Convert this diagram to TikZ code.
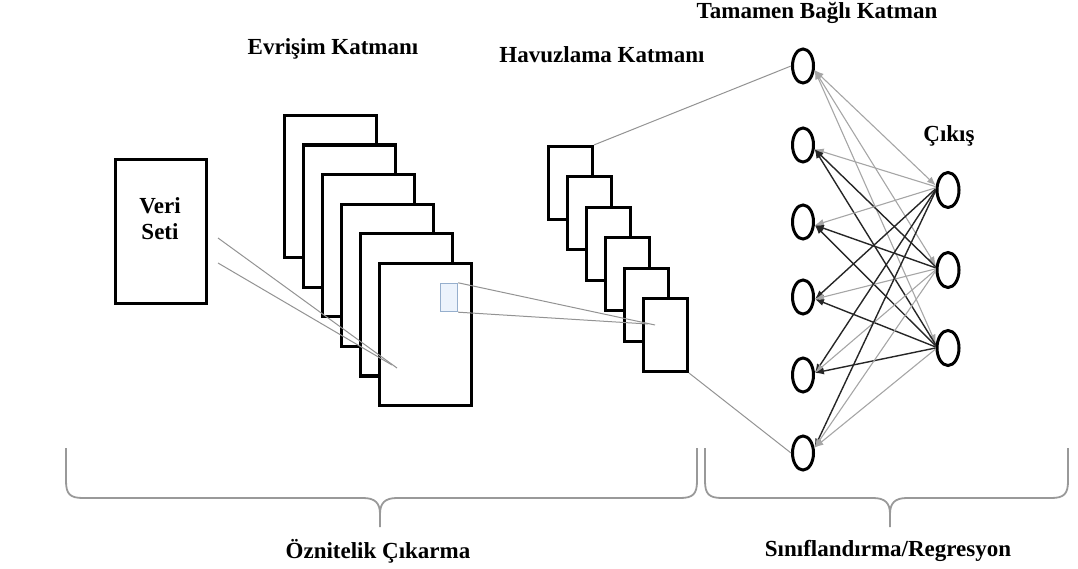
\documentclass[tikz,border=0pt]{standalone}
\usepackage{fontspec}
\setmainfont{Liberation Serif}
\usetikzlibrary{arrows.meta,shapes.geometric}
\begin{document}
\begin{tikzpicture}[x=1pt,y=-1pt,
  lbl/.style={font=\fontsize{23}{27}\selectfont\bfseries, anchor=base, inner sep=0pt},
  fmap/.style={draw=black, line width=3.2pt, fill=white, inner sep=0pt,
               minimum width=92pt, minimum height=142pt},
  pmap/.style={draw=black, line width=3.2pt, fill=white, inner sep=0pt,
               minimum width=44pt, minimum height=73pt},
  neuron/.style={ellipse, draw=black, line width=3pt, fill=white, inner sep=0pt,
                 minimum width=21pt, minimum height=34pt},
  link/.style={draw=gray!85, line width=1pt},
  tip/.tip={Latex[length=9pt,width=7pt]},
  wlight/.style={draw=gray!70, line width=1.1pt, -tip},
  wdark/.style={draw=black!85, line width=1.4pt, -tip},
  bracepath/.style={draw=gray!80, line width=1.8pt, line join=round}
]
\useasboundingbox (0,0) rectangle (1078,569);

% input
\node[draw=black, line width=3.2pt, fill=white, minimum width=91pt, minimum height=144pt, inner sep=0pt]
  (data) at (161,231.5) {};
\node[lbl] (veri) at (160,214) {Veri};
\node[lbl] (seti) at (160,240) {Seti};

% convolution feature maps
\foreach \i in {0,...,5}
  \node[fmap] (c\i) at ({330.5+19*\i},{186.5+29.6*\i}) {};
\node[draw={rgb,255:red,150;green,175;blue,205}, line width=1.4pt,
      fill={rgb,255:red,236;green,243;blue,252}, inner sep=0pt,
      minimum width=17pt, minimum height=28pt] (win) at (449,297.5) {};

% pooling maps
\foreach \i in {0,...,5}
  \node[pmap] (p\i) at ({570.5+19*\i},{183+30.4*\i}) {};

% receptive field lines
\coordinate (d1) at (218,238);
\coordinate (d2) at (218,263);
\coordinate (dend1) at (397,368);
\coordinate (dend2) at (392,365);
\draw[link] (d1) -- (dend1);
\draw[link] (d2) -- (dend2);
\coordinate (pend1) at (655,325);
\coordinate (pend2) at (648,324);
\draw[link] (win.north east) -- (pend1);
\draw[link] (win.south east) -- (pend2);

% fully connected and output neurons
\foreach \y [count=\k] in {66,145,222,297,375,453}
  \node[neuron] (h\k) at (803,\y) {};
\foreach \y [count=\k] in {190,270,348}
  \node[neuron, minimum width=22pt, minimum height=35pt] (o\k) at (948,\y) {};

\draw[link] (p0.north east) -- (h1.west);
\draw[link] (p5.south east) -- (h6.west);

% weights
\foreach \j in {1,2,3}
  \draw[wlight, tip-tip] (o\j.160) -- (h1.-20);
\draw[wlight] (o1.165) -- (h2.-20);
\draw[wdark]  (o2.165) -- (h2.-20);
\draw[wdark]  (o3.165) -- (h2.-20);
\draw[wlight] (o1.170) -- (h3.-15);
\draw[wdark]  (o2.170) -- (h3.-15);
\draw[wdark]  (o3.170) -- (h3.-15);
\draw[wdark]  (o1.175) -- (h4.-10);
\draw[wlight] (o2.175) -- (h4.-10);
\draw[wdark]  (o3.175) -- (h4.-10);
\draw[wdark]  (o1.180) -- (h5.10);
\draw[wlight] (o2.180) -- (h5.10);
\draw[wdark]  (o3.180) -- (h5.10);
\draw[wdark]  (o1.185) -- (h6.25);
\draw[wlight] (o2.185) -- (h6.25);
\draw[wlight] (o3.185) -- (h6.25);

% labels
\node[lbl] (lconv) at (333,55) {Evrişim Katmanı};
\node[lbl] (lpool) at (602,63) {Havuzlama Katmanı};
\node[lbl] (lfc) at (817,19) {Tamamen Bağlı Katman};
\node[lbl] (lout) at (949,142) {Çıkış};

% braces
\draw[bracepath] (66,448) -- (66,481) .. controls (66,494) and (70,498) .. (83,498)
  -- (363,498) .. controls (375,498) and (380,503) .. (380,514) -- (380,527);
\draw[bracepath] (380,514) .. controls (380,503) and (385,498) .. (397,498)
  -- (680,498) .. controls (693,498) and (697,494) .. (697,481) -- (697,448);
\draw[bracepath] (705,448) -- (705,481) .. controls (705,494) and (709,498) .. (722,498)
  -- (873,498) .. controls (885,498) and (890,503) .. (890,514) -- (890,527);
\draw[bracepath] (890,514) .. controls (890,503) and (895,498) .. (907,498)
  -- (1051,498) .. controls (1064,498) and (1068,494) .. (1068,481) -- (1068,448);

\node[lbl] (lfeat) at (378,558) {Öznitelik Çıkarma};
\node[lbl] (lcls) at (888,556) {Sınıflandırma/Regresyon};
\end{tikzpicture}
\end{document}
